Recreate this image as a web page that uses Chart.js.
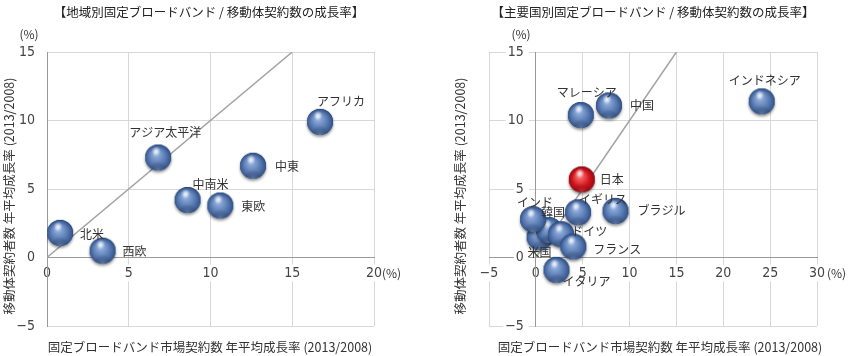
<!DOCTYPE html>
<html><head><meta charset="utf-8">
<script src="https://cdn.jsdelivr.net/npm/chart.js@4/dist/chart.umd.min.js"></script>
<style>
html,body{margin:0;padding:0;background:#fff;width:850px;height:356px;overflow:hidden}
.wrap{position:absolute;top:0;width:425px;height:356px}
#w1{left:0}#w2{left:425px}
canvas{display:block}
</style></head><body>
<div class="wrap" id="w1"><canvas id="c1" width="425" height="356"></canvas></div>
<div class="wrap" id="w2"><canvas id="c2" width="425" height="356"></canvas></div>
<script>
// ---------- data ----------
const regionNames = ['北米','西欧','アジア太平洋','中南米','東欧','中東','アフリカ'];
const regionFixedGrowth  = [0.8, 3.4, 6.8, 8.6, 10.6, 12.6, 16.7];
const regionMobileGrowth = [1.8, 0.5, 7.3, 4.2, 3.8, 6.7, 9.9];

const countryNames = ['米国','韓国','ドイツ','インド','フランス','イタリア','イギリス','日本','ブラジル','マレーシア','中国','インドネシア'];
const countryFixedGrowth  = [0.4, 1.4, 2.7, -0.3, 4.0, 2.2, 4.5, 4.9, 8.5, 4.8, 7.8, 24.1];
const countryMobileGrowth = [1.5, 2.0, 1.7, 2.8, 0.8, -0.9, 3.3, 5.7, 3.4, 10.4, 11.1, 11.4];
const highlightCountry = '日本';

const parityX = [0, 15];
const parityY = [0, 15];

const leftXRange = [0, 20];
const rightXRange = [-5, 30];
const yRange = [-5, 15];
const tickStep = 5;

const leftTitle = '【地域別固定ブロードバンド / 移動体契約数の成長率】';
const rightTitle = '【主要国別固定ブロードバンド / 移動体契約数の成長率】';
const xAxisTitle = '固定ブロードバンド市場契約数 年平均成長率 (2013/2008)';
const yAxisTitle = '移動体契約者数 年平均成長率 (2013/2008)';
const unitLabel = '(%)';

// ---------- label placement (style) ----------
const regionLabelPlace = [[20,2,'left'],[20,1,'left'],[7,-25,'center'],[23,-16,'center'],[21,1,'left'],[22,1,'left'],[21,-20,'center']];
const countryLabelPlace = [[-12,15,'left'],[4,-18,'center'],[10,-3,'left'],[2,-17,'center'],[20,3,'left'],[6,12,'left'],[25,-13,'center'],[18,0,'left'],[22,0,'left'],[6,-23,'center'],[21,0,'left'],[3,-21,'center']];

// ---------- sphere sprites ----------
function makeSphere(c){
  const S=36, r=13, cx=18, cy=18;
  const cv=document.createElement('canvas'); cv.width=S; cv.height=S;
  const g=cv.getContext('2d');
  g.save();
  g.shadowColor='rgba(0,0,0,0.45)'; g.shadowBlur=3; g.shadowOffsetY=2;
  g.beginPath(); g.arc(cx,cy,r,0,Math.PI*2); g.fillStyle=c.edge; g.fill();
  g.restore();
  g.save();
  g.beginPath(); g.arc(cx,cy,r,0,Math.PI*2); g.clip();
  let grd=g.createRadialGradient(cx-r*0.2, cy-r*0.4, 0, cx, cy+r*0.1, r*1.1);
  grd.addColorStop(0, c.hi); grd.addColorStop(0.25, c.light); grd.addColorStop(0.6, c.mid);
  grd.addColorStop(0.88, c.dark); grd.addColorStop(1, c.edge);
  g.fillStyle=grd; g.fillRect(0,0,S,S);
  let rg=g.createRadialGradient(cx, cy+r*1.05, 0, cx, cy+r*1.05, r*0.75);
  rg.addColorStop(0, c.refl); rg.addColorStop(1, 'rgba(0,0,0,0)');
  g.fillStyle=rg; g.fillRect(0,0,S,S);
  let sg=g.createRadialGradient(cx-r*0.15, cy-r*0.5, 0, cx-r*0.15, cy-r*0.5, r*0.35);
  sg.addColorStop(0,'rgba(255,255,255,0.85)'); sg.addColorStop(1,'rgba(255,255,255,0)');
  g.fillStyle=sg; g.fillRect(0,0,S,S);
  g.restore();
  return cv;
}
const blueBall = makeSphere({hi:'#c8dbf3', light:'#84a3d3', mid:'#5879b2', dark:'#36588e', edge:'#22396a', refl:'rgba(130,165,215,0.55)'});
const redBall  = makeSphere({hi:'#ffc0c0', light:'#f05a5a', mid:'#d2141e', dark:'#a00a12', edge:'#6a0008', refl:'rgba(240,110,110,0.5)'});

// ---------- plugins ----------
const pointLabels = {
  id:'pointLabels',
  afterDatasetsDraw(chart, args, o){
    const meta = chart.getDatasetMeta(0);
    const ctx = chart.ctx;
    ctx.save();
    ctx.font = '12px "Noto Sans CJK JP", sans-serif';
    ctx.fillStyle = '#333';
    ctx.textBaseline = 'middle';
    meta.data.forEach((el,i)=>{
      const p = o.place[i];
      ctx.textAlign = p[2];
      ctx.fillText(o.names[i], el.x+p[0], el.y+p[1]);
    });
    ctx.restore();
  }
};
const frameText = {
  id:'frameText',
  afterDraw(chart, args, o){
    const ctx = chart.ctx;
    const xs = chart.scales.x;
    ctx.save();
    ctx.textBaseline='middle';
    ctx.textAlign='center';
    ctx.fillStyle='#222';
    ctx.font='12.5px "Noto Sans CJK JP", sans-serif';
    ctx.fillText(o.title, o.titleX, 12);
    ctx.fillStyle='#333';
    ctx.font='12.5px "Noto Sans CJK JP", sans-serif';
    ctx.fillText(o.xTitle, o.xTitleX, 347);
    ctx.font='12px "Noto Sans CJK JP", sans-serif';
    ctx.fillText(unitLabel, o.unitYX, 34);
    ctx.textAlign='left';
    ctx.fillText(unitLabel, xs.getPixelForValue(xs.max)+o.unitXDx, 273);
    ctx.font='12.5px "Noto Sans CJK JP", sans-serif';
    ctx.textAlign='center';
    ctx.translate(o.yTitleX, 196);
    ctx.rotate(-Math.PI/2);
    ctx.fillText(o.yTitle, 0, 0);
    ctx.restore();
  }
};

const tickFont = {family:'"Liberation Sans Narrow", "DejaVu Sans Condensed", sans-serif', size:14};
function fmt(v){ return v<0 ? '\u2212'+Math.abs(v) : String(v); }
function fmtY(v){ return fmt(v) + '   '; }

function makeChart(id, names, xs, ys, place, xRange, pad, txt){
  const pts = xs.map((x,i)=>({x, y: ys[i]}));
  const styles = names.map(n => n===highlightCountry ? redBall : blueBall);
  return new Chart(document.getElementById(id), {
    type:'scatter',
    data:{datasets:[
      {data:pts, pointStyle:styles, pointRadius:13, order:0},
      {type:'line', data:parityX.map((x,i)=>({x, y:parityY[i]})), borderColor:'#a3a3a3', borderWidth:1.5, pointRadius:0, order:1}
    ]},
    options:{
      responsive:false, animation:false, events:[],
      layout:{padding:pad},
      plugins:{legend:{display:false}, tooltip:{enabled:false},
        pointLabels:{names, place}, frameText:txt},
      scales:{
        x:{type:'linear', position:{y:0}, min:xRange[0], max:xRange[1],
          grid:{color:'#d8d8d8', drawTicks:false, lineWidth:1},
          border:{color:'#9a9a9a', width:1},
          ticks:{stepSize:tickStep, padding:7, color:'#444', font:tickFont, callback:fmt, maxRotation:0,
            showLabelBackdrop:true, backdropColor:'#fff', backdropPadding:{left:1,right:1,top:0,bottom:0}}},
        y:{type:'linear', position:{x:0}, min:yRange[0], max:yRange[1],
          grid:{color:'#d8d8d8', drawTicks:false, lineWidth:1},
          border:{color:'#9a9a9a', width:1},
          ticks:{stepSize:tickStep, color:'#444', font:tickFont, callback:fmtY,
            showLabelBackdrop:true, backdropColor:'#fff', backdropPadding:{left:2,right:-7,top:0,bottom:0}}}
      }
    },
    plugins:[pointLabels, frameText]
  });
}

makeChart('c1', regionNames, regionFixedGrowth, regionMobileGrowth, regionLabelPlace, leftXRange,
  {left:47, right:51, top:52, bottom:30},
  {title:leftTitle, titleX:209, xTitle:xAxisTitle, xTitleX:210, yTitle:yAxisTitle, yTitleX:9, unitYX:29, unitXDx:8});
makeChart('c2', countryNames, countryFixedGrowth, countryMobileGrowth, countryLabelPlace, rightXRange,
  {left:64, right:33, top:52, bottom:30},
  {title:rightTitle, titleX:228, xTitle:xAxisTitle, xTitleX:235, yTitle:yAxisTitle, yTitleX:35, unitYX:96, unitXDx:10});
</script>
</body></html>
